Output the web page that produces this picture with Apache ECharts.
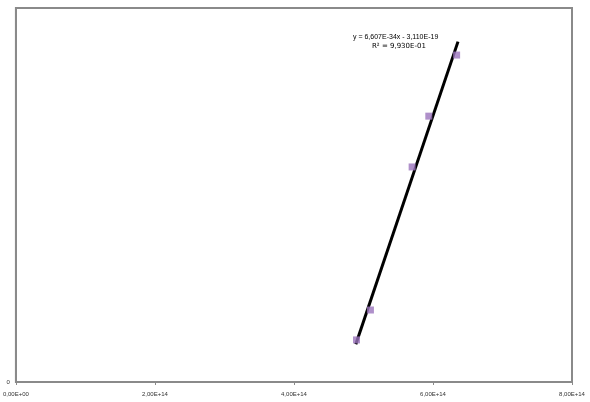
<!DOCTYPE html>
<html>
<head>
<meta charset="utf-8">
<script src="https://cdn.jsdelivr.net/npm/echarts@6/dist/echarts.min.js"></script>
<style>
  html, body { margin: 0; padding: 0; background: #fff; }
  #main { width: 590px; height: 402px; }
</style>
</head>
<body>
<div id="main"></div>
<script>
    // measured points (frequency, energy)
    var xValues = [4.90e14, 5.10e14, 5.70e14, 5.94e14, 6.34e14];
    var yValues = [1.35e-20, 2.31e-20, 6.90e-20, 8.53e-20, 1.049e-19];
    // trend line from the fitted equation
    var slope = 6.607e-34;
    var intercept = -3.110e-19;
    var rSquared = 0.993;
    var trendRange = [4.89e14, 6.36e14];
    var xTicks = [0, 2e14, 4e14, 6e14, 8e14];

    function sci(v, digits) {
        digits = digits || 2;
        if (v === 0) return '0,' + '0'.repeat(digits) + 'E+00';
        var s = v.toExponential(digits).split('e');
        var exp = parseInt(s[1], 10);
        var e = Math.abs(exp) < 10 ? '0' + Math.abs(exp) : '' + Math.abs(exp);
        return s[0].replace('.', ',') + 'E' + (exp < 0 ? '-' : '+') + e;
    }

    var points = [];
    for (var i = 0; i < xValues.length; i++) {
        points.push([xValues[i], yValues[i]]);
    }
    var trend = trendRange.map(function (x) {
        return [x, slope * x + intercept];
    });

    var option = {
        animation: false,
        grid: {
            left: 12, top: 8, right: 18, bottom: 20,
            show: true, borderColor: '#8a8a8a', borderWidth: 2,
            backgroundColor: '#fff'
        },
        xAxis: {
            type: 'value',
            min: xTicks[0], max: xTicks[xTicks.length - 1], interval: 2e14,
            splitLine: {show: false},
            axisLine: {lineStyle: {color: '#8a8a8a', width: 2}},
            axisTick: {show: true, length: 3, lineStyle: {color: '#8a8a8a'}},
            axisLabel: {
                fontSize: 6, color: '#333', margin: 9,
                fontFamily: 'Liberation Sans',
                formatter: function (v) { return sci(v, 2); }
            }
        },
        yAxis: {
            type: 'value',
            min: 0, max: 1.2e-19, interval: 1.2e-19,
            splitLine: {show: false},
            axisLine: {show: true, lineStyle: {color: '#8a8a8a', width: 2}},
            axisTick: {show: false},
            axisLabel: {
                fontSize: 6, color: '#333', margin: 6,
                fontFamily: 'Liberation Sans',
                formatter: function (v) { return v === 0 ? '0' : ''; }
            }
        },
        series: [
            {
                type: 'line',
                data: trend,
                symbol: 'none',
                lineStyle: {color: '#000', width: 3},
                z: 2
            },
            {
                type: 'scatter',
                data: points,
                symbol: 'rect',
                symbolSize: 7,
                itemStyle: {color: '#9b74bd'},
                z: 3
            }
        ],
        graphic: [
            {
                type: 'text', left: 353, top: 34,
                style: {
                    text: 'y = ' + sci(slope, 3) + 'x - ' + sci(-intercept, 3),
                    fontSize: 7, fontFamily: 'Liberation Sans', fill: '#000'
                }
            },
            {
                type: 'text', left: 372, top: 43,
                style: {
                    text: 'R\u00b2 = ' + sci(rSquared, 3),
                    fontSize: 7, fontFamily: 'DejaVu Sans', fill: '#000'
                }
            }
        ]
    };

    var myChart = echarts.init(document.getElementById('main'));
    myChart.setOption(option);
</script>
</body>
</html>
